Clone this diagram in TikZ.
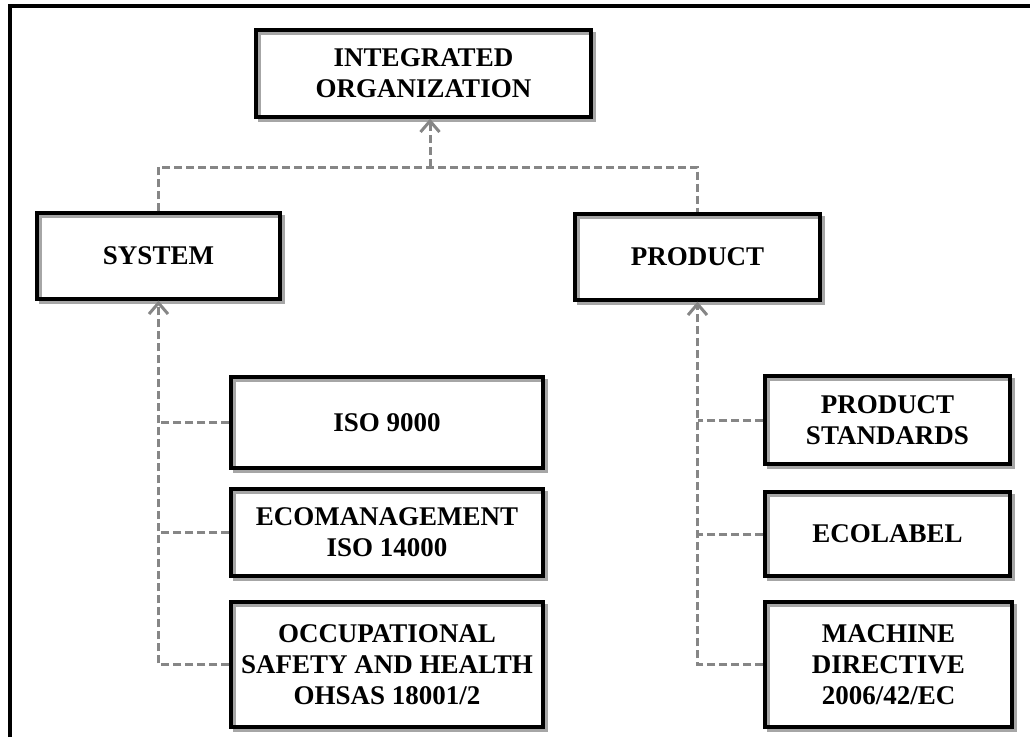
\documentclass[tikz,border=0pt]{standalone}
\usepackage{fontspec}
\setmainfont{Liberation Serif}
\usetikzlibrary{arrows.meta,shadows}
\begin{document}
\begin{tikzpicture}[x=1pt,y=-1pt,
  box/.style={draw=black, line width=3.4pt, fill=none, inner sep=0pt,
    align=center, font=\bfseries\fontsize{27}{31}\selectfont,
    general shadow={shadow xshift=3.5pt, shadow yshift=-3.5pt, draw=gray!70, line width=3pt, fill=none}},
  conn/.style={draw=gray!95, line width=3pt, dash pattern=on 8pt off 4pt},
  arr/.style={-{Straight Barb[length=11pt,width=19pt,line width=3pt]}}
]
\useasboundingbox (0,0) rectangle (1030,737);
% frame
\draw[line width=3.5pt] (10,737) -- (10,6) -- (1030,6);
% nodes
\node[box, minimum width=335, minimum height=87] (top) at (423.5,73.5) {INTEGRATED\\ORGANIZATION};
\node[box, minimum width=243, minimum height=86] (sys) at (158.5,256) {SYSTEM};
\node[box, minimum width=245, minimum height=86] (prod) at (697.5,257) {PRODUCT};
\node[box, minimum width=312, minimum height=91] (iso) at (387,422.5) {ISO 9000};
\node[box, minimum width=312, minimum height=87] (eco) at (387,532.5) {ECOMANAGEMENT\\ISO 14000};
\node[box, minimum width=312, minimum height=125] (occ) at (387,664.5) {OCCUPATIONAL\\SAFETY AND HEALTH\\OHSAS 18001/2};
\node[box, minimum width=245, minimum height=88] (pst) at (887.5,420) {PRODUCT\\STANDARDS};
\node[box, minimum width=245, minimum height=84] (eclab) at (887.5,534) {ECOLABEL};
\node[box, minimum width=247, minimum height=125] (mach) at (888.5,664.5) {MACHINE\\DIRECTIVE\\2006/42/EC};
% connectors
\coordinate (j) at (430,167);
\draw[conn] (sys.north) |- (j) -| (prod.north);
\draw[conn,arr] (j) -- (j |- top.south);
\draw[conn,arr] (occ.west) -| (sys.south);
\draw[conn] (iso.west) -- (iso.west -| sys.south);
\draw[conn] (eco.west) -- (eco.west -| sys.south);
\draw[conn,arr] (mach.west) -| (prod.south);
\draw[conn] (pst.west) -- (pst.west -| prod.south);
\draw[conn] (eclab.west) -- (eclab.west -| prod.south);
\end{tikzpicture}
\end{document}
